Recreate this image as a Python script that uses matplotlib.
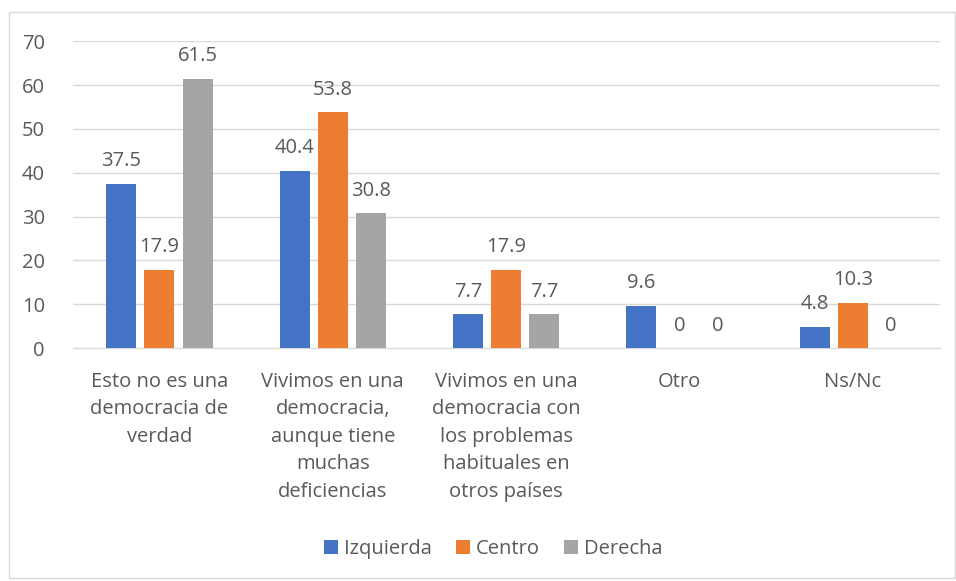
import matplotlib.pyplot as plt
import numpy as np
from matplotlib.patches import Rectangle

categorias = ['Esto no es una\ndemocracia de\nverdad',
              'Vivimos en una\ndemocracia,\naunque tiene\nmuchas\ndeficiencias',
              'Vivimos en una\ndemocracia con\nlos problemas\nhabituales en\notros países',
              'Otro',
              'Ns/Nc']
series = ['Izquierda', 'Centro', 'Derecha']
izquierda = [37.5, 40.4, 7.7, 9.6, 4.8]
centro = [17.9, 53.8, 17.9, 0, 10.3]
derecha = [61.5, 30.8, 7.7, 0, 0]
colores = ['#4472C4', '#ED7D31', '#A5A5A5']

plt.rcParams['font.family'] = ['Open Sans', 'DejaVu Sans']
gris_texto = '#595959'
tam = 14.5

fig = plt.figure(figsize=(9.56, 5.81), dpi=100)
ax = fig.add_axes([0.076, 0.401, 0.907, 0.528])

# marco exterior del gráfico
fig.patches.append(Rectangle((9 / 956, 3 / 581), 946 / 956, 566 / 581,
                             transform=fig.transFigure, fill=False,
                             edgecolor='#d9d9d9', linewidth=1))

x = np.arange(len(categorias))
ancho = 0.173
paso = 0.22
for i, (nombre, valores) in enumerate(zip(series, [izquierda, centro, derecha])):
    barras = ax.bar(x + (i - 1) * paso, valores, ancho, color=colores[i], label=nombre, zorder=3)
    ax.bar_label(barras, labels=[f'{v:g}' for v in valores], padding=9,
                 fontsize=tam, color=gris_texto)

ax.set_xlim(-0.5, 4.5)
ax.set_ylim(0, 70)
ax.set_yticks(range(0, 71, 10))
ax.grid(axis='y', color='#d9d9d9', linewidth=1, zorder=0)
for lado in ['top', 'right', 'left']:
    ax.spines[lado].set_visible(False)
ax.spines['bottom'].set_color('#d9d9d9')
ax.tick_params(axis='both', length=0, labelsize=tam, colors=gris_texto)
ax.tick_params(axis='y', pad=20)
ax.set_xticks(x)
ax.set_xticklabels(categorias, linespacing=1.5, va='top')
ax.tick_params(axis='x', pad=17)

fig.legend(loc='center', bbox_to_anchor=(0.516, 0.055), ncol=3, frameon=False,
           fontsize=tam, handlelength=0.7, handleheight=0.7, columnspacing=1.2,
           handletextpad=0.3, labelcolor=gris_texto)

fig.savefig('out.png', dpi=100)
